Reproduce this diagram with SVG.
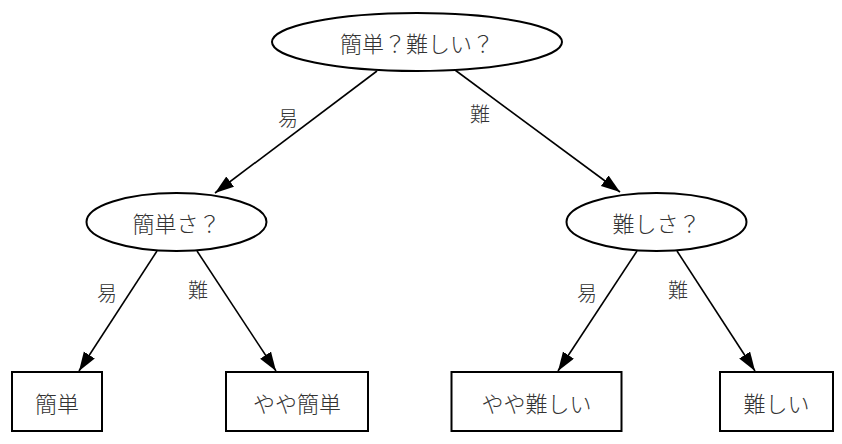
<svg xmlns="http://www.w3.org/2000/svg" width="842" height="444" viewBox="0 0 842 444">
<style>
  .node ellipse, .node rect { fill: #fff; stroke: #000; stroke-width: 2; }
  .node text { font-family: "Noto Sans CJK JP", "Noto Sans", sans-serif; font-size: 22px; fill: #333; text-anchor: middle; dominant-baseline: central; font-weight: 300; }
  .edges line { stroke: #000; stroke-width: 1.6; marker-end: url(#arrow); }
  .edges text { font-family: "Noto Sans CJK JP", "Noto Sans", sans-serif; font-size: 20px; fill: #333; text-anchor: middle; dominant-baseline: central; font-weight: 300; }
</style>
<defs>
  <marker id="arrow" markerUnits="userSpaceOnUse" markerWidth="20" markerHeight="14" refX="19" refY="6.5" orient="auto">
    <path d="M0,0 L19,6.5 L0,13 z" fill="#000"/>
  </marker>
</defs>
<rect width="842" height="444" fill="#fff"/>
<g class="edges">
  <line x1="377" y1="71" x2="215" y2="193"/>
  <text x="288" y="117">易</text>
  <line x1="455" y1="70" x2="620" y2="192"/>
  <text x="480" y="113">難</text>
  <line x1="157" y1="251" x2="79" y2="371"/>
  <text x="107" y="292">易</text>
  <line x1="197" y1="251" x2="276" y2="371"/>
  <text x="198" y="289">難</text>
  <line x1="637" y1="251" x2="558" y2="371"/>
  <text x="587" y="292">易</text>
  <line x1="677" y1="251" x2="755" y2="371"/>
  <text x="678" y="289">難</text>
</g>
<g id="root" class="node">
  <ellipse cx="417" cy="42" rx="145" ry="29"/>
  <text x="417" y="42">簡単？難しい？</text>
</g>
<g id="easy_q" class="node">
  <ellipse cx="176.5" cy="222" rx="90" ry="29"/>
  <text x="176.5" y="222">簡単さ？</text>
</g>
<g id="hard_q" class="node">
  <ellipse cx="656.5" cy="222" rx="90" ry="29"/>
  <text x="656.5" y="222">難しさ？</text>
</g>
<g id="easy" class="node">
  <rect x="12" y="372" width="90" height="59"/>
  <text x="57" y="402">簡単</text>
</g>
<g id="fairly_easy" class="node">
  <rect x="226" y="372" width="142" height="59"/>
  <text x="297" y="402">やや簡単</text>
</g>
<g id="fairly_hard" class="node">
  <rect x="451.5" y="372" width="170" height="59"/>
  <text x="536.5" y="402">やや難しい</text>
</g>
<g id="hard" class="node">
  <rect x="720" y="372" width="113" height="59"/>
  <text x="776.5" y="402">難しい</text>
</g>
</svg>
